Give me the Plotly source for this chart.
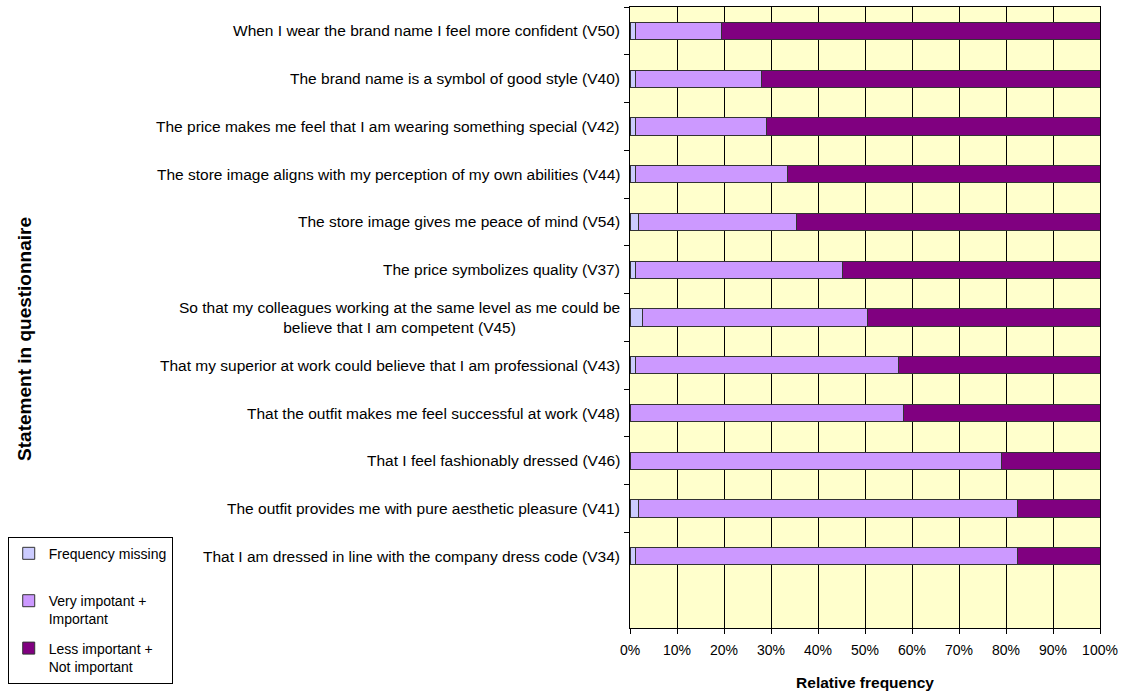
import plotly.graph_objects as go

statements = [
    "When I wear the brand name I feel more confident (V50)",
    "The brand name is a symbol of good style (V40)",
    "The price makes me feel that I am wearing something special (V42)",
    "The store image aligns with my perception of my own abilities (V44)",
    "The store image gives me peace of mind (V54)",
    "The price symbolizes quality (V37)",
    "So that my colleagues working at the same level as me could be<br>believe that I am competent (V45)",
    "That my superior at work could believe that I am professional (V43)",
    "That the outfit makes me feel successful at work (V48)",
    "That I feel fashionably dressed (V46)",
    "The outfit provides me with pure aesthetic pleasure (V41)",
    "That I am dressed in line with the company dress code (V34)",
]
freq_missing = [1.1, 1.1, 1.1, 1.1, 1.8, 1.1, 2.7, 1.1, 0.0, 0.0, 1.8, 1.1]
very_important = [18.4, 26.9, 27.9, 32.5, 33.6, 44.2, 47.9, 56.0, 58.1, 79.0, 80.7, 81.4]
less_important = [80.5, 72.0, 71.0, 66.4, 64.6, 54.7, 49.4, 42.9, 41.9, 21.0, 17.5, 17.5]
x_ticks = [0, 10, 20, 30, 40, 50, 60, 70, 80, 90, 100]

FONT = "Liberation Sans, Arial, sans-serif"

series = [
    ("Frequency missing<br> ", freq_missing, "#CCCCFF", "g1"),
    ("Very impotant +<br>Important", very_important, "#CC99FF", "g2"),
    ("Less important +<br>Not important", less_important, "#800080", "g3"),
]

fig = go.Figure()
for name, vals, col, grp in series:
    fig.add_trace(go.Bar(
        y=statements, x=vals, orientation="h", name=name, legendgroup=grp,
        marker=dict(color=col, line=dict(color="#333333", width=1)),
        width=0.36,
    ))

annotations = []
for s in statements:
    annotations.append(dict(
        xref="paper", yref="y", x=0, y=s, text=s, showarrow=False,
        xanchor="right", yanchor="middle", xshift=-8, align="center",
        font=dict(family=FONT, size=15.5, color="#000000"),
    ))
annotations.append(dict(
    xref="paper", yref="paper", x=-1.288, y=0.465, text="<b>Statement in questionnaire</b>",
    textangle=-90, showarrow=False, xanchor="center", yanchor="middle",
    font=dict(family=FONT, size=19, color="#000000"),
))

fig.update_layout(
    width=1129, height=696,
    margin=dict(l=628, r=29, t=7, b=68),
    paper_bgcolor="white", plot_bgcolor="#FFFFCC",
    barmode="stack", bargap=0.64,
    font=dict(family=FONT, size=14, color="#000000"),
    annotations=annotations,
    showlegend=True,
    legend=dict(
        x=-1.324, y=0.147, xanchor="left", yanchor="top",
        bordercolor="#000000", borderwidth=1, bgcolor="white",
        traceorder="grouped", tracegroupgap=8, valign="top",
        itemwidth=30, font=dict(family=FONT, size=14, color="#000000"),
    ),
    xaxis=dict(
        range=[0, 100], tickmode="array", tickvals=x_ticks,
        ticktext=[f"{v}%" for v in x_ticks],
        tickfont=dict(family=FONT, size=14, color="#000000"),
        showgrid=True, gridcolor="#000000", gridwidth=1,
        ticks="outside", ticklen=5, tickcolor="#000000", ticklabelstandoff=4,
        showline=True, linecolor="#000000", mirror=True, zeroline=False,
        title=dict(text="<b>Relative frequency</b>", font=dict(family=FONT, size=15.5), standoff=20),
        fixedrange=True,
    ),
    yaxis=dict(
        type="category", categoryorder="array", categoryarray=statements,
        range=[12.5, -0.5], tickson="boundaries", ticks="outside", ticklen=5,
        tickcolor="#000000", showticklabels=False, showgrid=False,
        showline=True, linecolor="#000000", mirror=True, zeroline=False,
        fixedrange=True,
    ),
)

fig.write_html("out.html")
